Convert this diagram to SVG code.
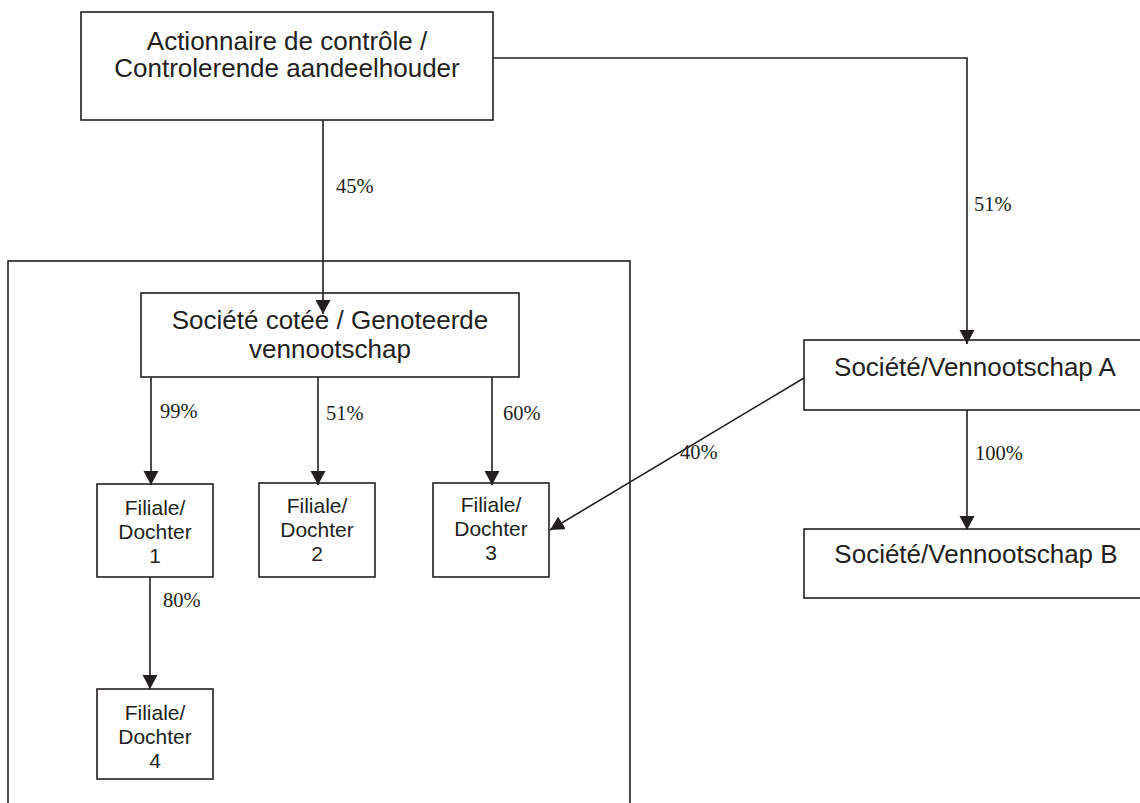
<svg xmlns="http://www.w3.org/2000/svg" width="1140" height="803" viewBox="0 0 1140 803">
<style>
.box{fill:#fff;stroke:#231f20;stroke-width:1.6}
.frame{fill:none;stroke:#231f20;stroke-width:1.6}
.big{font-family:"Liberation Sans",Arial,sans-serif;font-size:26px;fill:#231f20;text-anchor:middle}
.sm{font-family:"Liberation Sans",Arial,sans-serif;font-size:21px;fill:#231f20;text-anchor:middle}
.pct{font-family:"Liberation Serif","Times New Roman",serif;font-size:20.5px;fill:#231f20}
.ln{fill:none;stroke:#231f20;stroke-width:1.6;marker-end:url(#ah)}
</style>
<defs>
<marker id="ah" markerUnits="userSpaceOnUse" markerWidth="16" markerHeight="16" refX="14" refY="7.5" orient="auto">
<path d="M0,0 L14,7.5 L0,15 Z" fill="#231f20"/>
</marker>
</defs>
<rect id="group-frame" class="frame" x="8" y="261" width="622" height="560"/>
<g id="controller">
<rect class="box" x="81" y="12" width="412" height="108"/>
<text class="big" x="287" y="50">Actionnaire de contrôle /</text>
<text class="big" x="287" y="77">Controlerende aandeelhouder</text>
</g>
<g id="listed">
<rect class="box" x="141" y="293" width="378" height="84"/>
<text class="big" x="330" y="329">Société cotée / Genoteerde</text>
<text class="big" x="330" y="358">vennootschap</text>
</g>
<g id="filiale1">
<rect class="box" x="97" y="484" width="116" height="93"/>
<text class="sm" x="155" y="515">Filiale/</text>
<text class="sm" x="155" y="539">Dochter</text>
<text class="sm" x="155" y="563">1</text>
</g>
<g id="filiale2">
<rect class="box" x="259" y="483" width="116" height="94"/>
<text class="sm" x="317" y="513">Filiale/</text>
<text class="sm" x="317" y="537">Dochter</text>
<text class="sm" x="317" y="561">2</text>
</g>
<g id="filiale3">
<rect class="box" x="433" y="483" width="116" height="94"/>
<text class="sm" x="491" y="512">Filiale/</text>
<text class="sm" x="491" y="536">Dochter</text>
<text class="sm" x="491" y="560">3</text>
</g>
<g id="filiale4">
<rect class="box" x="97" y="689" width="116" height="90"/>
<text class="sm" x="155" y="720">Filiale/</text>
<text class="sm" x="155" y="744">Dochter</text>
<text class="sm" x="155" y="768">4</text>
</g>
<g id="companyA">
<rect class="box" x="804" y="340" width="350" height="70"/>
<text class="big" x="975" y="376">Société/Vennootschap A</text>
</g>
<g id="companyB">
<rect class="box" x="804" y="529" width="350" height="69"/>
<text class="big" x="976" y="563">Société/Vennootschap B</text>
</g>
<g id="connectors">
<path class="ln" d="M323,120 V314"/>
<path class="ln" d="M493,58 H967 V344"/>
<path class="ln" d="M151,377 V485"/>
<path class="ln" d="M318,377 V485"/>
<path class="ln" d="M492,377 V485"/>
<path class="ln" d="M150,577 V689"/>
<path class="ln" d="M967,410 V530"/>
<path class="ln" d="M804,378 L550,530"/>
<text class="pct" x="336" y="193">45%</text>
<text class="pct" x="974" y="211">51%</text>
<text class="pct" x="160" y="418">99%</text>
<text class="pct" x="326" y="420">51%</text>
<text class="pct" x="503" y="420">60%</text>
<text class="pct" x="163" y="607">80%</text>
<text class="pct" x="680" y="459">40%</text>
<text class="pct" x="975" y="460">100%</text>
</g>
</svg>
